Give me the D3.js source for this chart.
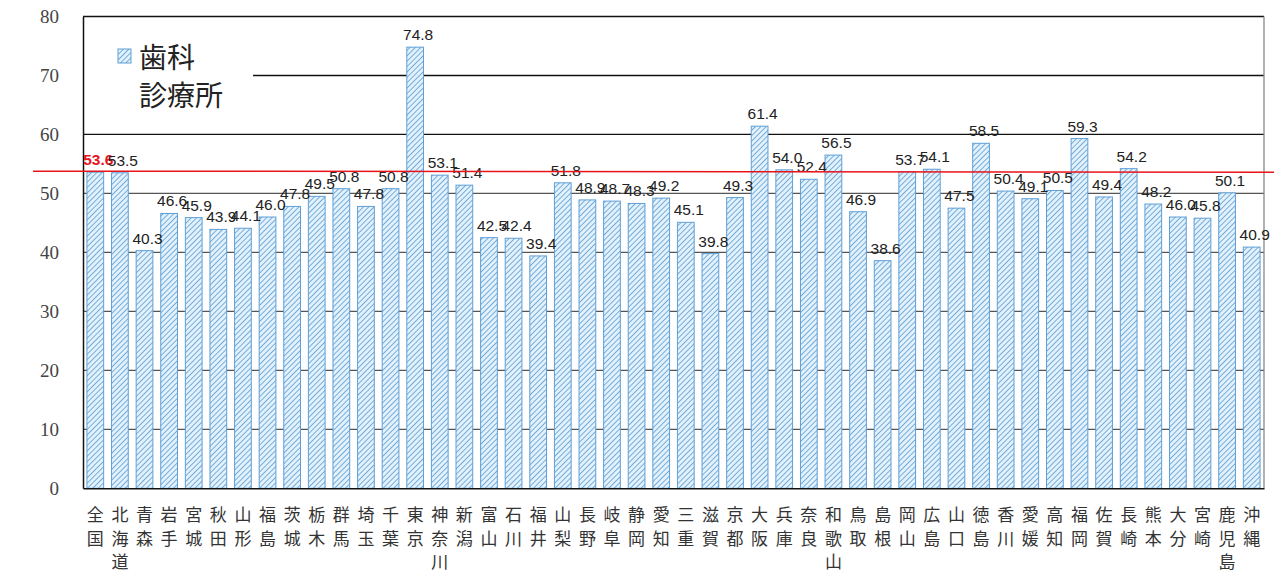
<!DOCTYPE html>
<html><head><meta charset="utf-8">
<script src="https://cdn.jsdelivr.net/npm/d3@7"></script>
<style>html,body{margin:0;padding:0;background:#fff;}svg{display:block;}</style>
</head><body>
<svg id="chart" width="1274" height="574"></svg>
<script>
const categories = ["全国","北海道","青森","岩手","宮城","秋田","山形","福島","茨城","栃木","群馬","埼玉","千葉","東京","神奈川","新潟","富山","石川","福井","山梨","長野","岐阜","静岡","愛知","三重","滋賀","京都","大阪","兵庫","奈良","和歌山","鳥取","島根","岡山","広島","山口","徳島","香川","愛媛","高知","福岡","佐賀","長崎","熊本","大分","宮崎","鹿児島","沖縄"];
const values = [53.6,53.5,40.3,46.6,45.9,43.9,44.1,46.0,47.8,49.5,50.8,47.8,50.8,74.8,53.1,51.4,42.5,42.4,39.4,51.8,48.9,48.7,48.3,49.2,45.1,39.8,49.3,61.4,54.0,52.4,56.5,46.9,38.6,53.7,54.1,47.5,58.5,50.4,49.1,50.5,59.3,49.4,54.2,48.2,46.0,45.8,50.1,40.9];
const yTicks = [0,10,20,30,40,50,60,70,80];
const seriesName = ["歯科","診療所"];
const nationalAverage = 53.6;

const svg = d3.select("#chart");
const pLeft = 83, pRight = 1264, pTop = 16.5, pBottom = 488.3;

const x = d3.scaleBand().domain(categories).range([pLeft, pRight]).paddingInner(0.32).paddingOuter(0.16);
const y = d3.scaleLinear().domain([0, 80]).range([pBottom, pTop]);

// hatch pattern
const defs = svg.append("defs");
const pat = defs.append("pattern").attr("id","hatch").attr("patternUnits","userSpaceOnUse")
  .attr("width",3.8).attr("height",3.8).attr("patternTransform","rotate(45)");
pat.append("rect").attr("width",3.8).attr("height",3.8).attr("fill","#e2f1fc");
pat.append("line").attr("x1",0).attr("y1",0).attr("x2",0).attr("y2",3.8)
  .attr("stroke","#5a9cd2").attr("stroke-width",1.6);

// gridlines
svg.append("g").selectAll("line").data(yTicks.filter(d => d > 0 && d < 80)).join("line")
  .attr("x1", pLeft).attr("x2", pRight)
  .attr("y1", d => y(d)).attr("y2", d => y(d))
  .attr("stroke", d => d >= 60 ? "#111" : "#555").attr("stroke-width", 1.3);

// legend background (covers gridline)
svg.append("rect").attr("x", pLeft + 1).attr("y", 28).attr("width", 169).attr("height", 95).attr("fill", "#fff");

// bars
svg.append("g").selectAll("rect").data(values).join("rect")
  .attr("x", (d, i) => x(categories[i]))
  .attr("width", x.bandwidth())
  .attr("y", d => y(d))
  .attr("height", d => y(0) - y(d))
  .attr("fill", "url(#hatch)")
  .attr("stroke", "#5f9fd6").attr("stroke-width", 1);

// axes frame
svg.append("line").attr("x1", pLeft).attr("x2", pRight).attr("y1", pTop).attr("y2", pTop).attr("stroke", "#111").attr("stroke-width", 1.3);
svg.append("line").attr("x1", pRight).attr("x2", pRight).attr("y1", pTop).attr("y2", pBottom).attr("stroke", "#888").attr("stroke-width", 1.3);

const yAxis = svg.append("g").attr("transform", `translate(${pLeft},0)`)
  .call(d3.axisLeft(y).tickValues(yTicks).tickSize(0).tickPadding(24).tickFormat(d3.format("d")));
yAxis.select(".domain").attr("stroke", "#111").attr("stroke-width", 1.5);
yAxis.selectAll("text").attr("font-family", "'Liberation Serif', serif").attr("font-size", 19).attr("fill", "#444");

const xAxis = svg.append("g").attr("transform", `translate(0,${pBottom})`)
  .call(d3.axisBottom(x).tickSize(0).tickFormat(""));
xAxis.select(".domain").attr("stroke", "#111").attr("stroke-width", 1.5);

// x labels, vertical stacked characters
const xl = svg.append("g").selectAll("text").data(categories).join("text")
  .attr("text-anchor", "middle")
  .attr("font-family", "'Noto Sans CJK JP', sans-serif").attr("font-size", 17).attr("fill", "#333");
xl.each(function(d) {
  const t = d3.select(this);
  const cx = x(d) + x.bandwidth() / 2;
  Array.from(d).forEach((ch, k) => {
    t.append("tspan").attr("x", cx).attr("y", 521 + k * 23.5).text(ch);
  });
});

// value labels
svg.append("g").selectAll("text").data(values).join("text")
  .attr("x", (d, i) => x(categories[i]) + x.bandwidth() / 2 + 3)
  .attr("y", d => y(d) - 7)
  .attr("text-anchor", "middle")
  .attr("font-family", "'Liberation Sans', Arial, sans-serif")
  .attr("font-size", 15.5)
  .attr("font-weight", (d, i) => i === 0 ? "bold" : "normal")
  .attr("fill", (d, i) => i === 0 ? "#e8141c" : "#222")
  .text(d => d3.format(".1f")(d));

// national average red line
svg.append("line").attr("x1", 33).attr("x2", 1274)
  .attr("y1", y(nationalAverage) - 1).attr("y2", y(nationalAverage))
  .attr("stroke", "#e8141c").attr("stroke-width", 1.5);

// legend
svg.append("rect").attr("x", 118).attr("y", 49).attr("width", 13).attr("height", 14)
  .attr("fill", "url(#hatch)").attr("stroke", "#5f9fd6");
svg.append("g").selectAll("text").data(seriesName).join("text")
  .attr("x", 139).attr("y", (d, i) => 68 + i * 38)
  .attr("font-family", "'Noto Sans CJK JP', sans-serif").attr("font-size", 28).attr("fill", "#222")
  .text(d => d);
</script>
</body></html>
